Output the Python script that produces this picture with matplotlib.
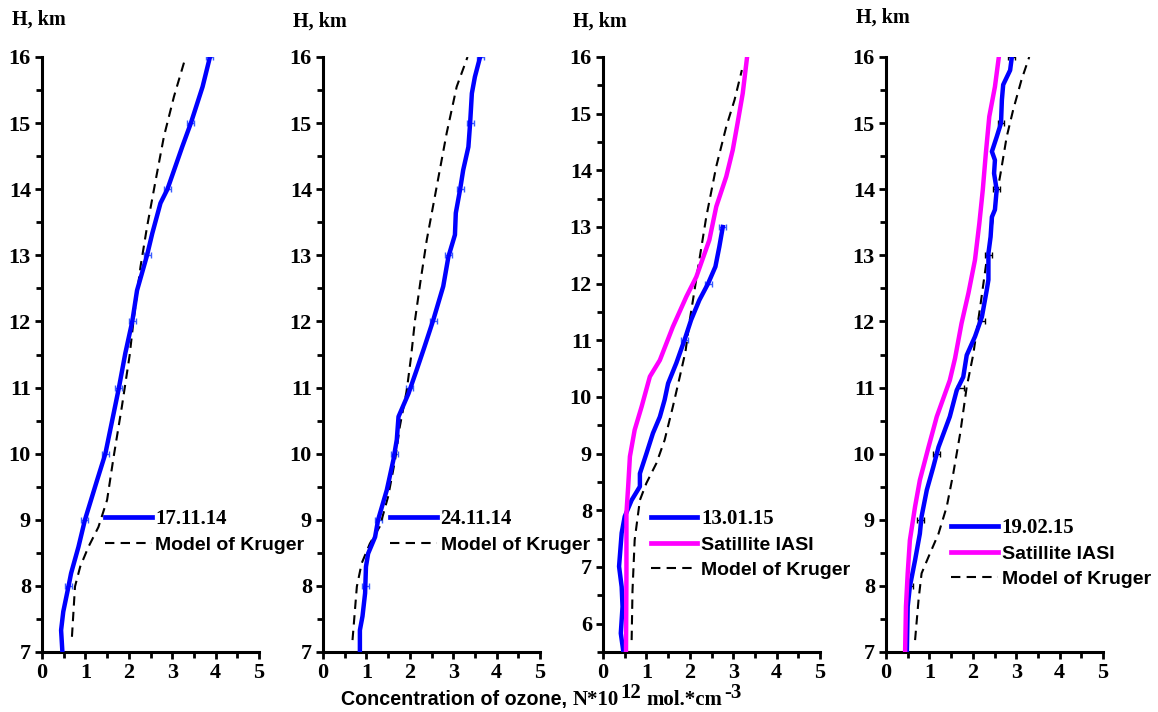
import numpy as np
import matplotlib
matplotlib.use('Agg')
import matplotlib.pyplot as plt

serif = 'Liberation Serif'
sans = 'Liberation Sans'

# ---- data (x = concentration, h = height km) ----
h1_meas = [7.0, 7.33, 7.61, 7.99, 8.19, 8.59, 9.0, 9.6, 10.0, 10.99, 11.52, 12.0, 12.47, 13.0, 13.33, 13.79, 14.0, 14.64, 15.0, 15.55, 16.0]
x1_meas = [0.47, 0.44, 0.49, 0.61, 0.67, 0.84, 0.99, 1.27, 1.46, 1.77, 1.92, 2.08, 2.19, 2.42, 2.54, 2.73, 2.89, 3.23, 3.43, 3.70, 3.87]
h1_mod = [7.23, 7.99, 8.29, 8.59, 8.89, 9.30, 9.95, 10.71, 11.49, 12.02, 12.83, 13.43, 14.14, 14.8, 15.4, 16.0]
x1_mod = [0.69, 0.76, 0.88, 1.07, 1.30, 1.50, 1.65, 1.84, 2.02, 2.11, 2.27, 2.42, 2.62, 2.81, 3.04, 3.31]
h1_err = [8, 9, 10, 11, 12, 13, 14, 15, 16]
x1_err = [0.61, 0.99, 1.46, 1.77, 2.08, 2.42, 2.89, 3.43, 3.87]

h2_meas = [7.0, 7.33, 7.54, 7.89, 8.29, 8.49, 8.74, 9.0, 9.45, 9.9, 10.21, 10.56, 10.91, 11.27, 11.6, 12.02, 12.53, 12.98, 13.31, 13.64, 14.0, 14.29, 14.64, 15.0, 15.45, 15.7, 16.0]
x2_meas = [0.85, 0.85, 0.91, 0.97, 0.99, 1.04, 1.20, 1.27, 1.47, 1.62, 1.70, 1.74, 1.97, 2.16, 2.33, 2.54, 2.77, 2.89, 3.04, 3.06, 3.16, 3.23, 3.35, 3.39, 3.43, 3.50, 3.62]
h2_mod = [7.18, 7.99, 8.34, 8.64, 8.9, 9.35, 9.9, 10.41, 10.96, 11.47, 12.02, 12.58, 13.23, 14.04, 14.85, 15.55, 16.0]
x2_mod = [0.68, 0.78, 0.89, 1.08, 1.31, 1.50, 1.66, 1.77, 1.93, 2.03, 2.12, 2.24, 2.39, 2.62, 2.85, 3.08, 3.33]
h2_err = [8, 9, 10, 11, 12, 13, 14, 15, 16]
x2_err = [0.97, 1.27, 1.64, 2.0, 2.54, 2.89, 3.16, 3.39, 3.62]

h3_meas = [5.5, 5.83, 6.3, 6.65, 7.01, 7.6, 7.89, 8.18, 8.42, 8.65, 9.0, 9.36, 9.65, 9.95, 10.24, 10.6, 11.01, 11.36, 11.71, 12.0, 12.3, 12.65, 13.0]
x3_meas = [0.47, 0.41, 0.45, 0.43, 0.37, 0.43, 0.50, 0.66, 0.85, 0.85, 1.00, 1.15, 1.31, 1.42, 1.50, 1.69, 1.88, 2.03, 2.22, 2.42, 2.59, 2.68, 2.76]
h3_sat = [5.5, 6.89, 7.95, 8.42, 8.95, 9.42, 9.83, 10.36, 10.65, 11.24, 11.77, 12.12, 12.77, 13.36, 13.89, 14.36, 14.83, 15.36, 16.0]
x3_sat = [0.53, 0.54, 0.54, 0.58, 0.62, 0.73, 0.89, 1.08, 1.31, 1.61, 1.92, 2.15, 2.45, 2.61, 2.84, 2.99, 3.10, 3.22, 3.32]
h3_mod = [5.71, 6.59, 7.48, 8.18, 8.48, 8.83, 9.24, 9.83, 10.36, 10.8, 11.36, 11.89, 12.42, 13.18, 14.07, 14.77, 15.24, 15.77]
x3_mod = [0.66, 0.68, 0.73, 0.85, 1.0, 1.23, 1.42, 1.61, 1.77, 1.90, 2.0, 2.11, 2.22, 2.38, 2.61, 2.84, 3.03, 3.20]
h3_err = [11, 12, 13]
x3_err = [1.88, 2.42, 2.76]

h4_meas = [7.0, 7.69, 7.99, 8.39, 8.79, 9.05, 9.45, 9.8, 10.1, 10.56, 10.96, 11.16, 11.49, 11.77, 12.07, 12.47, 12.63, 13.03, 13.28, 13.58, 13.69, 13.99, 14.24, 14.44, 14.57, 14.79, 15.0, 15.35, 15.58, 15.8, 16.0]
x4_meas = [0.48, 0.50, 0.55, 0.67, 0.78, 0.82, 0.94, 1.09, 1.21, 1.47, 1.63, 1.78, 1.86, 2.05, 2.21, 2.32, 2.36, 2.36, 2.41, 2.44, 2.51, 2.55, 2.49, 2.51, 2.44, 2.55, 2.65, 2.67, 2.70, 2.86, 2.90]
h4_sat = [7.0, 7.69, 8.19, 8.69, 9.2, 9.6, 10.1, 10.56, 11.11, 11.44, 11.97, 12.43, 12.93, 13.48, 13.99, 14.54, 15.1, 15.55, 16.0]
x4_sat = [0.44, 0.46, 0.50, 0.55, 0.67, 0.78, 0.98, 1.17, 1.47, 1.59, 1.74, 1.90, 2.05, 2.15, 2.23, 2.30, 2.38, 2.51, 2.60]
h4_mod = [7.18, 7.79, 8.19, 8.44, 8.79, 9.2, 9.7, 10.31, 11.01, 11.5, 12.22, 12.93, 13.84, 14.24, 14.79, 15.2, 15.65, 16.0]
x4_mod = [0.67, 0.75, 0.82, 0.98, 1.21, 1.40, 1.55, 1.71, 1.86, 2.01, 2.17, 2.32, 2.53, 2.64, 2.78, 2.93, 3.12, 3.30]
h4_err = [8, 9, 10, 11, 12, 13, 14, 15, 16]
x4_err = [0.55, 0.80, 1.17, 1.72, 2.19, 2.36, 2.55, 2.65, 2.90]

dates = ['17.11.14', '24.11.14', '13.01.15', '19.02.15']
ymins = [7, 7, 5.5, 7]

meas = [(x1_meas, h1_meas), (x2_meas, h2_meas), (x3_meas, h3_meas), (x4_meas, h4_meas)]
model = [(x1_mod, h1_mod), (x2_mod, h2_mod), (x3_mod, h3_mod), (x4_mod, h4_mod)]
sat = [None, None, (x3_sat, h3_sat), (x4_sat, h4_sat)]
errs = [(x1_err, h1_err), (x2_err, h2_err), (x3_err, h3_err), (x4_err, h4_err)]
err_colors = ['#3a5cff', '#3a5cff', '#3a5cff', 'black']

# layout in pixels of the original (1158 x 712)
W, H = 1158, 712
lefts = [42, 323, 603, 886]
ax_w = 217
top_px, bot_px = 57, 652
leg_x = [0.29, 0.309, 0.22, 0.30]
leg_y = [0.24, 0.24, 0.24, 0.226]
hkm_dy = [20, 22, 22, 18]

fig = plt.figure(figsize=(W / 100, H / 100), dpi=100)

for i in range(4):
    ax = fig.add_axes([lefts[i] / W, 1 - bot_px / H, ax_w / W, (bot_px - top_px) / H])
    xe, he = errs[i]
    ax.errorbar(xe, he, xerr=0.08, fmt='none', ecolor=err_colors[i], elinewidth=1.0, capsize=2.5, capthick=1.0, zorder=2)
    ax.plot(meas[i][0], meas[i][1], color='#0000ff', lw=3.2, solid_joinstyle='round', label=dates[i], zorder=3)
    if sat[i] is not None:
        ax.plot(sat[i][0], sat[i][1], color='#ff00ff', lw=3.2, solid_joinstyle='round', label='Satillite IASI', zorder=3)
    ax.plot(model[i][0], model[i][1], color='black', lw=1.5, dashes=(4.5, 3), label='Model of Kruger', zorder=2)

    ax.set_xlim(0, 5)
    ax.set_ylim(ymins[i], 16)
    ax.set_xticks(range(0, 6))
    ax.set_xticks(np.arange(0.5, 5, 1.0), minor=True)
    ax.set_yticks(range(int(np.ceil(ymins[i])), 17))
    ax.set_yticks(np.arange(ymins[i] if ymins[i] % 1 else ymins[i] + 0.5, 16, 1.0), minor=True)
    for s in ['top', 'right']:
        ax.spines[s].set_visible(False)
    for s in ['left', 'bottom']:
        ax.spines[s].set_linewidth(2.2)
    ax.tick_params(which='major', direction='out', length=5, width=2, pad=3)
    ax.tick_params(which='minor', direction='out', length=4, width=2)
    for lab in ax.get_xticklabels() + ax.get_yticklabels():
        lab.set_fontfamily(serif)
        lab.set_fontweight('bold')
        lab.set_fontsize(16)

    leg = ax.legend(loc='upper left', bbox_to_anchor=(leg_x[i], leg_y[i]), frameon=False,
                    borderpad=0, borderaxespad=0, handlelength=2.4, handletextpad=0.2,
                    labelspacing=0.38, fontsize=14)
    for t in leg.get_texts():
        if t.get_text() == dates[i]:
            t.set_fontfamily(serif)
            t.set_fontsize(15)
        else:
            t.set_fontfamily(sans)
        t.set_fontweight('bold')
    for ln in leg.get_lines():
        if ln.get_linestyle() == '-':
            ln.set_linewidth(3.4)

    fig.text((lefts[i] - 30) / W, 1 - hkm_dy[i] / H, 'H, km', fontfamily=serif, fontweight='bold',
             fontsize=14.5, ha='left', va='center')

# x axis label: sans part + serif part with superscripts
yb = 1 - 705 / H
t1 = fig.text(341 / W, yb, 'Concentration of ozone,', fontfamily=sans, fontweight='bold',
              fontsize=14.2, ha='left', va='baseline')
t2 = plt.annotate('N*10', xy=(1.0, yb), xycoords=(t1, 'figure fraction'), xytext=(4, 0),
                  textcoords='offset points', fontfamily=serif, fontweight='bold', fontsize=15,
                  ha='left', va='baseline', annotation_clip=False)
t3 = plt.annotate('12', xy=(1.0, yb), xycoords=(t2, 'figure fraction'), xytext=(1, 5),
                  textcoords='offset points', fontfamily=serif, fontweight='bold', fontsize=15,
                  ha='left', va='baseline', annotation_clip=False)
t4 = plt.annotate('mol.*cm', xy=(1.0, yb), xycoords=(t3, 'figure fraction'), xytext=(4, 0),
                  textcoords='offset points', fontfamily=serif, fontweight='bold', fontsize=15,
                  ha='left', va='baseline', annotation_clip=False)
t5 = plt.annotate('-3', xy=(1.0, yb), xycoords=(t4, 'figure fraction'), xytext=(1, 5),
                  textcoords='offset points', fontfamily=serif, fontweight='bold', fontsize=15,
                  ha='left', va='baseline', annotation_clip=False)

plt.savefig('out.png', dpi=100)
